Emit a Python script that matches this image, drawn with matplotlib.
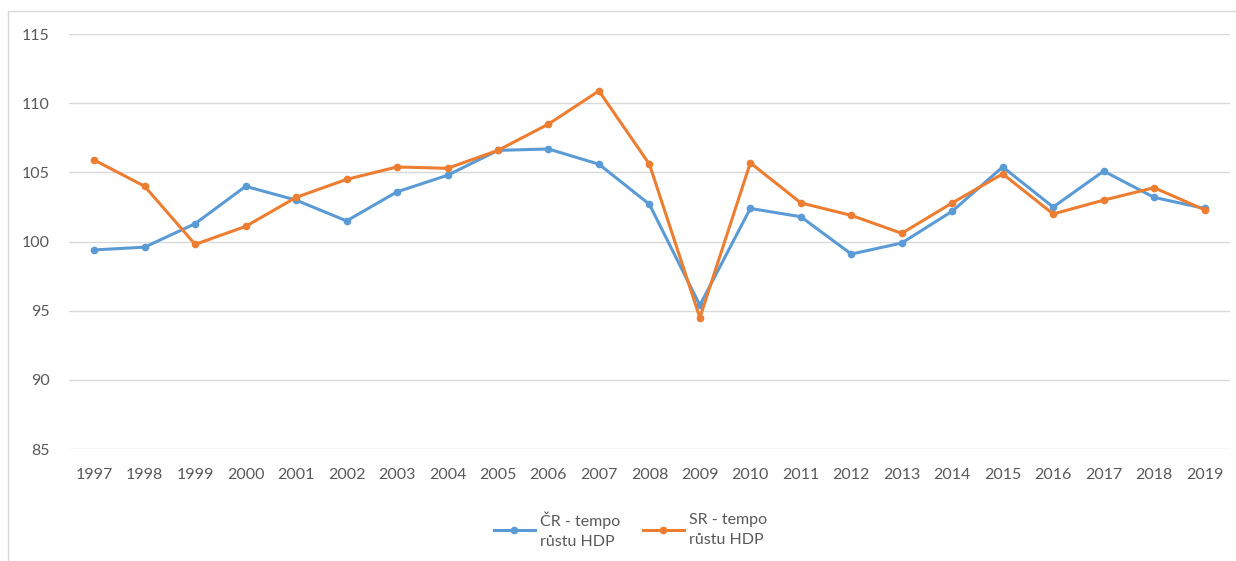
import matplotlib.pyplot as plt
import matplotlib.patches as patches

plt.rcParams['font.family'] = ['Lato', 'DejaVu Sans']

years = [str(y) for y in range(1997, 2020)]
cr_growth = [99.4, 99.6, 101.3, 104.0, 103.0, 101.5, 103.6, 104.8, 106.6, 106.7,
             105.6, 102.7, 95.4, 102.4, 101.8, 99.1, 99.9, 102.2, 105.4, 102.5,
             105.1, 103.2, 102.4]
sr_growth = [105.9, 104.0, 99.8, 101.1, 103.2, 104.5, 105.4, 105.3, 106.6, 108.5,
             110.9, 105.6, 94.5, 105.7, 102.8, 101.9, 100.6, 102.8, 104.9, 102.0,
             103.0, 103.9, 102.3]
labels = ["ČR - tempo\nrůstu HDP", "SR - tempo\nrůstu HDP"]

blue = "#5B9BD5"
orange = "#ED7D31"
grey_text = "#595959"

fig = plt.figure(figsize=(12.36, 5.61), dpi=100)
ax = fig.add_axes([0.0558, 0.1996, 0.9392, 0.7394])

# chart area border
fig.patches.append(patches.Rectangle((8 / 1236, -0.05), 1.1, 1 - 11 / 561 + 0.05,
                                     transform=fig.transFigure, fill=False,
                                     edgecolor="#D9D9D9", lw=1))

x = range(len(years))
ax.plot(x, cr_growth, color=blue, lw=2.2, marker="o", ms=4.5, label=labels[0], zorder=3)
ax.plot(x, sr_growth, color=orange, lw=2.2, marker="o", ms=4.5, label=labels[1], zorder=4)

ax.set_xlim(-0.5, len(years) - 0.5)
ax.set_ylim(85, 115)
ax.set_yticks(range(85, 116, 5))
ax.set_xticks(list(x))
ax.set_xticklabels(years)
ax.grid(axis="y", color="#D9D9D9", lw=1)
ax.set_axisbelow(True)
for s in ax.spines.values():
    s.set_visible(False)
ax.tick_params(length=0, labelsize=11.5, colors=grey_text)
ax.tick_params(axis="x", pad=14)
ax.tick_params(axis="y", pad=14)

leg = fig.legend(loc="center", bbox_to_anchor=(0.51, 0.055), ncol=2, frameon=False,
                 fontsize=11.5, handlelength=2.6, columnspacing=1.4, handletextpad=0.3)
for t in leg.get_texts():
    t.set_color(grey_text)
    t.set_linespacing(1.5)

fig.savefig("out.png", dpi=100)
